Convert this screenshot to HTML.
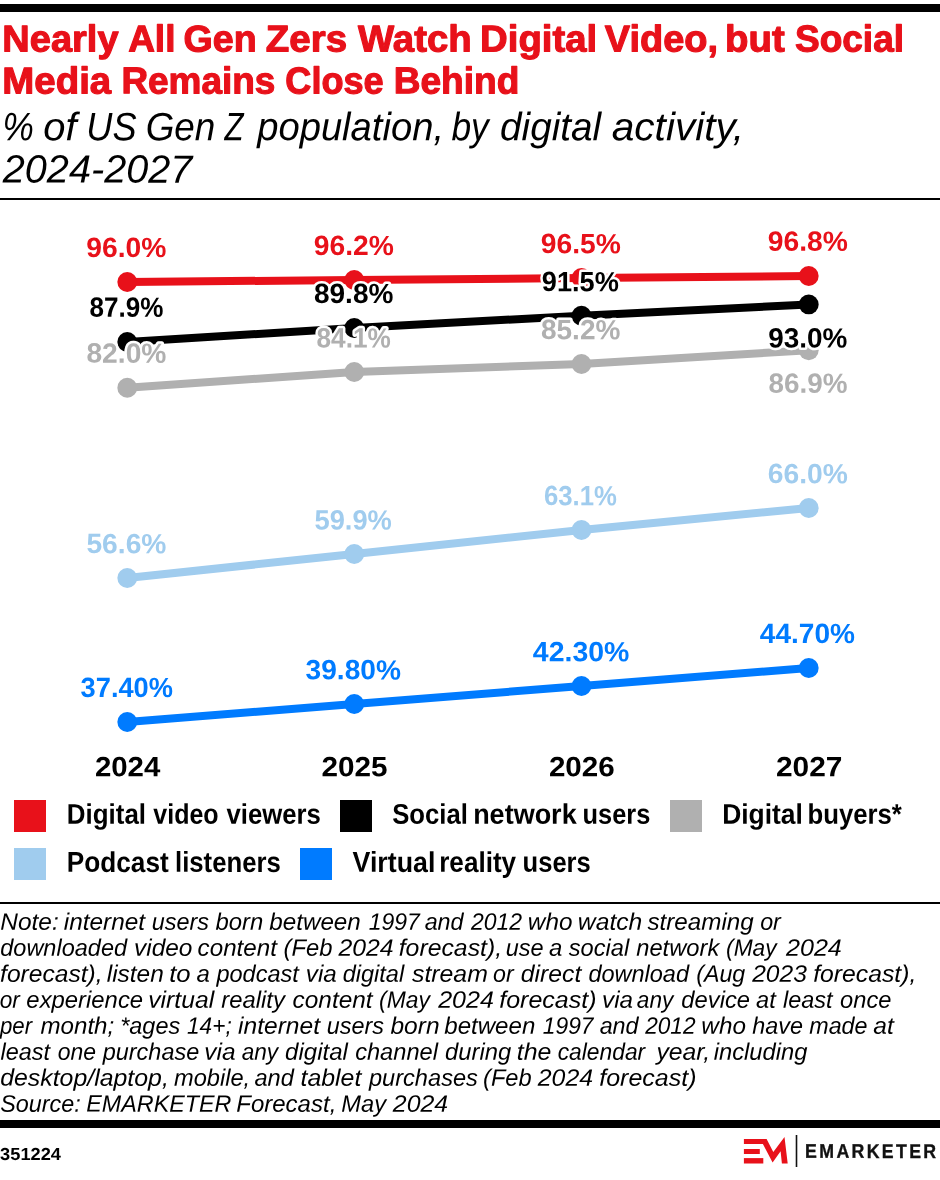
<!DOCTYPE html>
<html lang="en">
<head>
<meta charset="utf-8">
<title>Nearly All Gen Zers Watch Digital Video, but Social Media Remains Close Behind</title>
<style>
html,body{margin:0;padding:0;background:#fff;}
body{width:940px;height:1180px;overflow:hidden;font-family:"Liberation Sans",sans-serif;}
#chart{display:block;width:940px;height:1180px;}
text{font-family:"Liberation Sans",sans-serif;white-space:pre;}
.halo{paint-order:stroke fill;stroke:#fff;stroke-width:5px;stroke-linejoin:round;}
.ln{fill:none;stroke-width:8px;stroke-linejoin:round;stroke-linecap:round;}
</style>
</head>
<body>
<svg id="chart" width="940" height="1180" viewBox="0 0 940 1180" role="img" aria-label="Line chart: percent of US Gen Z population, by digital activity, 2024-2027">
<rect x="0" y="0" width="940" height="1180" fill="#ffffff"/>

<rect id="top-bar" x="0" y="4" width="940" height="8" fill="#000"/>
<g id="title">
<text transform="matrix(1 0.001 0 1 0 0)" font-size="37.36" font-weight="700" stroke="#e8111a" stroke-width="0.03em" stroke-linejoin="round" fill="#e8111a"><tspan x="2.35" y="51.478" textLength="116.18" lengthAdjust="spacingAndGlyphs">Nearly</tspan> <tspan x="128.13" y="51.389" textLength="47.33" lengthAdjust="spacingAndGlyphs">All</tspan> <tspan x="183.56" y="51.320" textLength="73.13" lengthAdjust="spacingAndGlyphs">Gen</tspan> <tspan x="265.87" y="51.233" textLength="81.24" lengthAdjust="spacingAndGlyphs">Zers</tspan> <tspan x="358.07" y="51.126" textLength="113.57" lengthAdjust="spacingAndGlyphs">Watch</tspan> <tspan x="480.08" y="51.001" textLength="117.05" lengthAdjust="spacingAndGlyphs">Digital</tspan> <tspan x="604.88" y="50.879" textLength="113.17" lengthAdjust="spacingAndGlyphs">Video,</tspan> <tspan x="725.08" y="50.784" textLength="59.72" lengthAdjust="spacingAndGlyphs">but</tspan> <tspan x="794.94" y="50.691" textLength="109.12" lengthAdjust="spacingAndGlyphs">Social</tspan></text>
<text transform="matrix(1 0.001 0 1 0 0)" font-size="37.5" font-weight="700" stroke="#e8111a" stroke-width="0.03em" stroke-linejoin="round" fill="#e8111a"><tspan x="2.33" y="93.379" textLength="108.86" lengthAdjust="spacingAndGlyphs">Media</tspan> <tspan x="121.4" y="93.239" textLength="153.97" lengthAdjust="spacingAndGlyphs">Remains</tspan> <tspan x="285.35" y="93.103" textLength="98.31" lengthAdjust="spacingAndGlyphs">Close</tspan> <tspan x="393.65" y="92.981" textLength="125.66" lengthAdjust="spacingAndGlyphs">Behind</tspan></text>
</g>
<g id="subtitle">
<text transform="matrix(1 0.001 0 1 0 0)" font-size="39.57" font-style="italic" fill="#000000"><tspan x="2.53" y="140.186" textLength="31.35" lengthAdjust="spacingAndGlyphs">%</tspan> <tspan x="43.3" y="140.142" textLength="33.27" lengthAdjust="spacingAndGlyphs">of</tspan> <tspan x="86.29" y="140.092" textLength="50.25" lengthAdjust="spacingAndGlyphs">US</tspan> <tspan x="145.65" y="140.024" textLength="69.76" lengthAdjust="spacingAndGlyphs">Gen</tspan> <tspan x="224.62" y="139.970" textLength="18.97" lengthAdjust="spacingAndGlyphs">Z</tspan> <tspan x="257.2" y="139.856" textLength="186.81" lengthAdjust="spacingAndGlyphs">population,</tspan> <tspan x="451.47" y="139.733" textLength="37.31" lengthAdjust="spacingAndGlyphs">by</tspan> <tspan x="500.09" y="139.653" textLength="101.05" lengthAdjust="spacingAndGlyphs">digital</tspan> <tspan x="611.69" y="139.528" textLength="132.48" lengthAdjust="spacingAndGlyphs">activity,</tspan></text>
<text x="2.7" y="182.6" transform="matrix(1 0.001 0 1 0 -0.098)" font-size="39.36" font-style="italic" fill="#000000" textLength="189.75" lengthAdjust="spacingAndGlyphs">2024-2027</text>
</g>
<rect id="head-rule" x="0" y="198" width="940" height="2" fill="#000"/>
<g id="series">
<g class="series" stroke="#e8111a" fill="#e8111a">
<polyline class="ln" points="127.25,282 354.25,280 581.5,278 808.75,276"/>
<circle cx="127.25" cy="282" r="9.9" stroke="none"/>
<circle cx="354.25" cy="280" r="9.9" stroke="none"/>
<circle cx="581.5" cy="278" r="9.9" stroke="none"/>
<circle cx="808.75" cy="276" r="9.9" stroke="none"/>
</g>
<g class="series" stroke="#000000" fill="#000000">
<polyline class="ln" points="127.25,342 354.25,328 581.5,315.75 808.75,304.4"/>
<circle cx="127.25" cy="342" r="9.9" stroke="none"/>
<circle cx="354.25" cy="328" r="9.9" stroke="none"/>
<circle cx="581.5" cy="315.75" r="9.9" stroke="none"/>
<circle cx="808.75" cy="304.4" r="9.9" stroke="none"/>
</g>
<g class="series" stroke="#b0b0b0" fill="#b0b0b0">
<polyline class="ln" points="127.25,387.75 354.25,372 581.5,364 808.75,350.25"/>
<circle cx="127.25" cy="387.75" r="9.9" stroke="none"/>
<circle cx="354.25" cy="372" r="9.9" stroke="none"/>
<circle cx="581.5" cy="364" r="9.9" stroke="none"/>
<circle cx="808.75" cy="350.25" r="9.9" stroke="none"/>
</g>
<g class="series" stroke="#a0ccee" fill="#a0ccee">
<polyline class="ln" points="127.25,578 354.25,554 581.5,530 808.75,508"/>
<circle cx="127.25" cy="578" r="9.9" stroke="none"/>
<circle cx="354.25" cy="554" r="9.9" stroke="none"/>
<circle cx="581.5" cy="530" r="9.9" stroke="none"/>
<circle cx="808.75" cy="508" r="9.9" stroke="none"/>
</g>
<g class="series" stroke="#007bff" fill="#007bff">
<polyline class="ln" points="127.25,722 354.25,704 581.5,686 808.75,668"/>
<circle cx="127.25" cy="722" r="9.9" stroke="none"/>
<circle cx="354.25" cy="704" r="9.9" stroke="none"/>
<circle cx="581.5" cy="686" r="9.9" stroke="none"/>
<circle cx="808.75" cy="668" r="9.9" stroke="none"/>
</g>
</g>
<g id="value-labels">
<text x="86.31" y="256.97" transform="matrix(1 0.001 0 1 0 -0.127)" font-size="27.82" font-weight="700" fill="#e8111a" class="halo" textLength="80.11" lengthAdjust="spacingAndGlyphs">96.0%</text>
<text x="89.52" y="316.87" transform="matrix(1 0.001 0 1 0 -0.127)" font-size="27.82" font-weight="700" fill="#000000" class="halo" textLength="73.84" lengthAdjust="spacingAndGlyphs">87.9%</text>
<text x="86.45" y="362.67" transform="matrix(1 0.001 0 1 0 -0.127)" font-size="27.82" font-weight="700" fill="#b0b0b0" class="halo" textLength="79.96" lengthAdjust="spacingAndGlyphs">82.0%</text>
<text x="86.45" y="553.17" transform="matrix(1 0.001 0 1 0 -0.127)" font-size="27.82" font-weight="700" fill="#a0ccee" class="halo" textLength="79.96" lengthAdjust="spacingAndGlyphs">56.6%</text>
<text x="80.62" y="697.07" transform="matrix(1 0.001 0 1 0 -0.127)" font-size="27.82" font-weight="700" fill="#007bff" class="halo" textLength="92.31" lengthAdjust="spacingAndGlyphs">37.40%</text>
<text x="313.81" y="255.07" transform="matrix(1 0.001 0 1 0 -0.354)" font-size="27.82" font-weight="700" fill="#e8111a" class="halo" textLength="80.11" lengthAdjust="spacingAndGlyphs">96.2%</text>
<text x="313.96" y="302.97" transform="matrix(1 0.001 0 1 0 -0.354)" font-size="27.82" font-weight="700" fill="#000000" class="halo" textLength="79.45" lengthAdjust="spacingAndGlyphs">89.8%</text>
<text x="316.51" y="347.47" transform="matrix(1 0.001 0 1 0 -0.354)" font-size="27.82" font-weight="700" fill="#b0b0b0" class="halo" textLength="74.35" lengthAdjust="spacingAndGlyphs">84.1%</text>
<text x="314.48" y="529.57" transform="matrix(1 0.001 0 1 0 -0.353)" font-size="27.82" font-weight="700" fill="#a0ccee" class="halo" textLength="77.41" lengthAdjust="spacingAndGlyphs">59.9%</text>
<text x="305.6" y="679.37" transform="matrix(1 0.001 0 1 0 -0.353)" font-size="27.82" font-weight="700" fill="#007bff" class="halo" textLength="95.35" lengthAdjust="spacingAndGlyphs">39.80%</text>
<text x="540.81" y="253.17" transform="matrix(1 0.001 0 1 0 -0.581)" font-size="27.82" font-weight="700" fill="#e8111a" class="halo" textLength="80.11" lengthAdjust="spacingAndGlyphs">96.5%</text>
<text x="541.85" y="291.17" transform="matrix(1 0.001 0 1 0 -0.581)" font-size="27.82" font-weight="700" fill="#000000" class="halo" textLength="77.04" lengthAdjust="spacingAndGlyphs">91.5%</text>
<text x="540.96" y="339.17" transform="matrix(1 0.001 0 1 0 -0.581)" font-size="27.82" font-weight="700" fill="#b0b0b0" class="halo" textLength="79.45" lengthAdjust="spacingAndGlyphs">85.2%</text>
<text x="543.9" y="505.17" transform="matrix(1 0.001 0 1 0 -0.581)" font-size="27.82" font-weight="700" fill="#a0ccee" class="halo" textLength="72.96" lengthAdjust="spacingAndGlyphs">63.1%</text>
<text x="532.87" y="661.27" transform="matrix(1 0.001 0 1 0 -0.581)" font-size="27.82" font-weight="700" fill="#007bff" class="halo" textLength="96.59" lengthAdjust="spacingAndGlyphs">42.30%</text>
<text x="767.81" y="250.87" transform="matrix(1 0.001 0 1 0 -0.808)" font-size="27.82" font-weight="700" fill="#e8111a" class="halo" textLength="80.11" lengthAdjust="spacingAndGlyphs">96.8%</text>
<text x="768.32" y="347.47" transform="matrix(1 0.001 0 1 0 -0.808)" font-size="27.82" font-weight="700" fill="#000000" class="halo" textLength="79.09" lengthAdjust="spacingAndGlyphs">93.0%</text>
<text x="768.46" y="392.87" transform="matrix(1 0.001 0 1 0 -0.808)" font-size="27.82" font-weight="700" fill="#b0b0b0" class="halo" textLength="78.94" lengthAdjust="spacingAndGlyphs">86.9%</text>
<text x="767.81" y="483.17" transform="matrix(1 0.001 0 1 0 -0.808)" font-size="27.82" font-weight="700" fill="#a0ccee" class="halo" textLength="80.11" lengthAdjust="spacingAndGlyphs">66.0%</text>
<text x="759.88" y="642.97" transform="matrix(1 0.001 0 1 0 -0.807)" font-size="27.82" font-weight="700" fill="#007bff" class="halo" textLength="95.07" lengthAdjust="spacingAndGlyphs">44.70%</text>
</g>
<g id="x-axis">
<text x="94.92" y="776.22" transform="matrix(1 0.001 0 1 0 -0.128)" font-size="27.82" font-weight="700" fill="#000000" textLength="65.42" lengthAdjust="spacingAndGlyphs">2024</text>
<text x="321.41" y="776.22" transform="matrix(1 0.001 0 1 0 -0.354)" font-size="27.82" font-weight="700" fill="#000000" textLength="66.02" lengthAdjust="spacingAndGlyphs">2025</text>
<text x="548.91" y="776.22" transform="matrix(1 0.001 0 1 0 -0.582)" font-size="27.82" font-weight="700" fill="#000000" textLength="65.81" lengthAdjust="spacingAndGlyphs">2026</text>
<text x="775.9" y="776.22" transform="matrix(1 0.001 0 1 0 -0.809)" font-size="27.82" font-weight="700" fill="#000000" textLength="66.48" lengthAdjust="spacingAndGlyphs">2027</text>
</g>
<g id="legend">
<rect x="14" y="800" width="32" height="32" fill="#e8111a"/>
<text transform="matrix(1 0.001 0 1 0 0)" font-size="28.48" font-weight="700" fill="#000000"><tspan x="66.81" y="823.644" textLength="79.22" lengthAdjust="spacingAndGlyphs">Digital</tspan> <tspan x="153.27" y="823.564" textLength="65.35" lengthAdjust="spacingAndGlyphs">video</tspan> <tspan x="226.47" y="823.477" textLength="94.34" lengthAdjust="spacingAndGlyphs">viewers</tspan></text>
<rect x="340" y="800" width="32" height="32" fill="#000000"/>
<text transform="matrix(1 0.001 0 1 0 0)" font-size="28.48" font-weight="700" fill="#000000"><tspan x="392.13" y="823.321" textLength="75.69" lengthAdjust="spacingAndGlyphs">Social</tspan> <tspan x="473.14" y="823.224" textLength="103.53" lengthAdjust="spacingAndGlyphs">network</tspan> <tspan x="582.58" y="823.133" textLength="67.7" lengthAdjust="spacingAndGlyphs">users</tspan></text>
<rect x="670" y="800" width="32" height="32" fill="#b0b0b0"/>
<text transform="matrix(1 0.001 0 1 0 0)" font-size="28.48" font-weight="700" fill="#000000"><tspan x="722.18" y="822.988" textLength="80.68" lengthAdjust="spacingAndGlyphs">Digital</tspan> <tspan x="807.43" y="822.895" textLength="94.46" lengthAdjust="spacingAndGlyphs">buyers*</tspan></text>
<rect x="14" y="848" width="32" height="32" fill="#a0ccee"/>
<text transform="matrix(1 0.001 0 1 0 0)" font-size="28.7" font-weight="700" fill="#000000"><tspan x="66.8" y="871.782" textLength="101.87" lengthAdjust="spacingAndGlyphs">Podcast</tspan> <tspan x="175.03" y="871.672" textLength="105.76" lengthAdjust="spacingAndGlyphs">listeners</tspan></text>
<rect x="300" y="848" width="32" height="32" fill="#007bff"/>
<text transform="matrix(1 0.001 0 1 0 0)" font-size="28.7" font-weight="700" fill="#000000"><tspan x="352.57" y="871.507" textLength="82.77" lengthAdjust="spacingAndGlyphs">Virtual</tspan> <tspan x="439.2" y="871.422" textLength="76.96" lengthAdjust="spacingAndGlyphs">reality</tspan> <tspan x="522.57" y="871.343" textLength="68.22" lengthAdjust="spacingAndGlyphs">users</tspan></text>
</g>
<rect id="note-rule" x="0" y="902" width="940" height="2" fill="#000"/>
<g id="notes">
<text transform="matrix(1 0.001 0 1 0 0)" font-size="23.77" font-style="italic" fill="#000000"><tspan x="0.22" y="929.671" textLength="58.47" lengthAdjust="spacingAndGlyphs">Note:</tspan> <tspan x="63.73" y="929.595" textLength="81.37" lengthAdjust="spacingAndGlyphs">internet</tspan> <tspan x="151.66" y="929.519" textLength="57.26" lengthAdjust="spacingAndGlyphs">users</tspan> <tspan x="215.49" y="929.461" textLength="47.82" lengthAdjust="spacingAndGlyphs">born</tspan> <tspan x="269.24" y="929.385" textLength="91.57" lengthAdjust="spacingAndGlyphs">between</tspan> <tspan x="368.7" y="929.305" textLength="51.13" lengthAdjust="spacingAndGlyphs">1997</tspan> <tspan x="424.63" y="929.255" textLength="38.95" lengthAdjust="spacingAndGlyphs">and</tspan> <tspan x="470.93" y="929.204" textLength="51.13" lengthAdjust="spacingAndGlyphs">2012</tspan> <tspan x="527.89" y="929.150" textLength="44.53" lengthAdjust="spacingAndGlyphs">who</tspan> <tspan x="577.87" y="929.090" textLength="64.48" lengthAdjust="spacingAndGlyphs">watch</tspan> <tspan x="647.48" y="928.999" textLength="106.23" lengthAdjust="spacingAndGlyphs">streaming</tspan> <tspan x="760.15" y="928.929" textLength="20.72" lengthAdjust="spacingAndGlyphs">or</tspan></text>
<text transform="matrix(1 0.001 0 1 0 0)" font-size="23.77" font-style="italic" fill="#000000"><tspan x="0.24" y="955.636" textLength="126.83" lengthAdjust="spacingAndGlyphs">downloaded</tspan> <tspan x="134.01" y="955.536" textLength="58.44" lengthAdjust="spacingAndGlyphs">video</tspan> <tspan x="197.63" y="955.462" textLength="79.24" lengthAdjust="spacingAndGlyphs">content</tspan> <tspan x="283.53" y="955.392" textLength="48.91" lengthAdjust="spacingAndGlyphs">(Feb</tspan> <tspan x="338.47" y="955.334" textLength="55.08" lengthAdjust="spacingAndGlyphs">2024</tspan> <tspan x="398.73" y="955.251" textLength="103.39" lengthAdjust="spacingAndGlyphs">forecast),</tspan> <tspan x="505.66" y="955.175" textLength="37.92" lengthAdjust="spacingAndGlyphs">use</tspan> <tspan x="549.12" y="955.144" textLength="13.33" lengthAdjust="spacingAndGlyphs">a</tspan> <tspan x="568.73" y="955.101" textLength="60.42" lengthAdjust="spacingAndGlyphs">social</tspan> <tspan x="636.24" y="955.022" textLength="83.04" lengthAdjust="spacingAndGlyphs">network</tspan> <tspan x="726.05" y="954.948" textLength="50.58" lengthAdjust="spacingAndGlyphs">(May</tspan> <tspan x="785.98" y="954.887" textLength="55.84" lengthAdjust="spacingAndGlyphs">2024</tspan></text>
<text transform="matrix(1 0.001 0 1 0 0)" font-size="23.77" font-style="italic" fill="#000000"><tspan x="0.09" y="981.650" textLength="102.51" lengthAdjust="spacingAndGlyphs">forecast),</tspan> <tspan x="106.73" y="981.565" textLength="57.05" lengthAdjust="spacingAndGlyphs">listen</tspan> <tspan x="169.24" y="981.520" textLength="21.4" lengthAdjust="spacingAndGlyphs">to</tspan> <tspan x="196.62" y="981.497" textLength="13.33" lengthAdjust="spacingAndGlyphs">a</tspan> <tspan x="216.44" y="981.442" textLength="82.38" lengthAdjust="spacingAndGlyphs">podcast</tspan> <tspan x="305.77" y="981.378" textLength="30.99" lengthAdjust="spacingAndGlyphs">via</tspan> <tspan x="342.64" y="981.326" textLength="61.53" lengthAdjust="spacingAndGlyphs">digital</tspan> <tspan x="411.98" y="981.251" textLength="75.87" lengthAdjust="spacingAndGlyphs">stream</tspan> <tspan x="493.06" y="981.196" textLength="20.65" lengthAdjust="spacingAndGlyphs">or</tspan> <tspan x="520.86" y="981.148" textLength="60.48" lengthAdjust="spacingAndGlyphs">direct</tspan> <tspan x="588.39" y="981.061" textLength="100.63" lengthAdjust="spacingAndGlyphs">download</tspan> <tspan x="696.19" y="980.979" textLength="49.04" lengthAdjust="spacingAndGlyphs">(Aug</tspan> <tspan x="752.22" y="980.921" textLength="54.59" lengthAdjust="spacingAndGlyphs">2023</tspan> <tspan x="813.23" y="980.836" textLength="103.14" lengthAdjust="spacingAndGlyphs">forecast),</tspan></text>
<text transform="matrix(1 0.001 0 1 0 0)" font-size="23.77" font-style="italic" fill="#000000"><tspan x="-0.34" y="1007.690" textLength="20.13" lengthAdjust="spacingAndGlyphs">or</tspan> <tspan x="26.38" y="1007.615" textLength="116.7" lengthAdjust="spacingAndGlyphs">experience</tspan> <tspan x="148.24" y="1007.518" textLength="65.9" lengthAdjust="spacingAndGlyphs">virtual</tspan> <tspan x="221.24" y="1007.446" textLength="63.58" lengthAdjust="spacingAndGlyphs">reality</tspan> <tspan x="292.62" y="1007.367" textLength="79.99" lengthAdjust="spacingAndGlyphs">content</tspan> <tspan x="379.07" y="1007.294" textLength="50.79" lengthAdjust="spacingAndGlyphs">(May</tspan> <tspan x="438.19" y="1007.234" textLength="55.67" lengthAdjust="spacingAndGlyphs">2024</tspan> <tspan x="499.23" y="1007.152" textLength="97.35" lengthAdjust="spacingAndGlyphs">forecast)</tspan> <tspan x="602.02" y="1007.082" textLength="30.99" lengthAdjust="spacingAndGlyphs">via</tspan> <tspan x="636.83" y="1007.044" textLength="36.51" lengthAdjust="spacingAndGlyphs">any</tspan> <tspan x="681.39" y="1006.984" textLength="68.66" lengthAdjust="spacingAndGlyphs">device</tspan> <tspan x="756.13" y="1006.933" textLength="19.72" lengthAdjust="spacingAndGlyphs">at</tspan> <tspan x="783" y="1006.892" textLength="49.57" lengthAdjust="spacingAndGlyphs">least</tspan> <tspan x="840.14" y="1006.834" textLength="51.35" lengthAdjust="spacingAndGlyphs">once</tspan></text>
<text transform="matrix(1 0.001 0 1 0 0)" font-size="23.77" font-style="italic" fill="#000000"><tspan x="-0.11" y="1033.684" textLength="32.15" lengthAdjust="spacingAndGlyphs">per</tspan> <tspan x="40.49" y="1033.623" textLength="73.74" lengthAdjust="spacingAndGlyphs">month;</tspan> <tspan x="120.19" y="1033.549" textLength="60.04" lengthAdjust="spacingAndGlyphs">*ages</tspan> <tspan x="187.03" y="1033.491" textLength="44.69" lengthAdjust="spacingAndGlyphs">14+;</tspan> <tspan x="238.03" y="1033.420" textLength="82.01" lengthAdjust="spacingAndGlyphs">internet</tspan> <tspan x="326.66" y="1033.344" textLength="57.26" lengthAdjust="spacingAndGlyphs">users</tspan> <tspan x="390.48" y="1033.285" textLength="49.11" lengthAdjust="spacingAndGlyphs">born</tspan> <tspan x="444.24" y="1033.211" textLength="91.06" lengthAdjust="spacingAndGlyphs">between</tspan> <tspan x="542.78" y="1033.131" textLength="50.73" lengthAdjust="spacingAndGlyphs">1997</tspan> <tspan x="599.63" y="1033.080" textLength="38.95" lengthAdjust="spacingAndGlyphs">and</tspan> <tspan x="645.21" y="1033.030" textLength="50.32" lengthAdjust="spacingAndGlyphs">2012</tspan> <tspan x="701.39" y="1032.976" textLength="44.53" lengthAdjust="spacingAndGlyphs">who</tspan> <tspan x="752.25" y="1032.923" textLength="50.74" lengthAdjust="spacingAndGlyphs">have</tspan> <tspan x="809.25" y="1032.862" textLength="58.3" lengthAdjust="spacingAndGlyphs">made</tspan> <tspan x="873.33" y="1032.816" textLength="20.51" lengthAdjust="spacingAndGlyphs">at</tspan></text>
<text transform="matrix(1 0.001 0 1 0 0)" font-size="23.77" font-style="italic" fill="#000000"><tspan x="0.6" y="1059.674" textLength="49.47" lengthAdjust="spacingAndGlyphs">least</tspan> <tspan x="57.66" y="1059.623" textLength="38.31" lengthAdjust="spacingAndGlyphs">one</tspan> <tspan x="102.69" y="1059.550" textLength="96.56" lengthAdjust="spacingAndGlyphs">purchase</tspan> <tspan x="204.26" y="1059.480" textLength="31.26" lengthAdjust="spacingAndGlyphs">via</tspan> <tspan x="241.65" y="1059.439" textLength="36.47" lengthAdjust="spacingAndGlyphs">any</tspan> <tspan x="285.13" y="1059.383" textLength="62.79" lengthAdjust="spacingAndGlyphs">digital</tspan> <tspan x="355.14" y="1059.303" textLength="82.79" lengthAdjust="spacingAndGlyphs">channel</tspan> <tspan x="445.14" y="1059.222" textLength="66.05" lengthAdjust="spacingAndGlyphs">during</tspan> <tspan x="516.84" y="1059.166" textLength="34.62" lengthAdjust="spacingAndGlyphs">the</tspan> <tspan x="557.67" y="1059.098" textLength="87.51" lengthAdjust="spacingAndGlyphs">calendar</tspan> <tspan x="656.46" y="1059.019" textLength="53.66" lengthAdjust="spacingAndGlyphs">year,</tspan> <tspan x="713.74" y="1058.939" textLength="93.63" lengthAdjust="spacingAndGlyphs">including</tspan></text>
<text transform="matrix(1 0.001 0 1 0 0)" font-size="23.77" font-style="italic" fill="#000000"><tspan x="0.2" y="1085.617" textLength="168.67" lengthAdjust="spacingAndGlyphs">desktop/laptop,</tspan> <tspan x="173.99" y="1085.489" textLength="76.16" lengthAdjust="spacingAndGlyphs">mobile,</tspan> <tspan x="254.39" y="1085.425" textLength="39.42" lengthAdjust="spacingAndGlyphs">and</tspan> <tspan x="300.48" y="1085.368" textLength="60.88" lengthAdjust="spacingAndGlyphs">tablet</tspan> <tspan x="368.92" y="1085.277" textLength="109" lengthAdjust="spacingAndGlyphs">purchases</tspan> <tspan x="483.04" y="1085.192" textLength="48.65" lengthAdjust="spacingAndGlyphs">(Feb</tspan> <tspan x="537.72" y="1085.135" textLength="55.34" lengthAdjust="spacingAndGlyphs">2024</tspan> <tspan x="599.22" y="1085.052" textLength="97.36" lengthAdjust="spacingAndGlyphs">forecast)</tspan></text>
<text transform="matrix(1 0.001 0 1 0 0)" font-size="23.77" font-style="italic" fill="#000000"><tspan x="0.25" y="1111.660" textLength="80.52" lengthAdjust="spacingAndGlyphs">Source:</tspan> <tspan x="86.3" y="1111.541" textLength="145.06" lengthAdjust="spacingAndGlyphs">EMARKETER</tspan> <tspan x="236.28" y="1111.415" textLength="100.05" lengthAdjust="spacingAndGlyphs">Forecast,</tspan> <tspan x="341.29" y="1111.335" textLength="44.71" lengthAdjust="spacingAndGlyphs">May</tspan> <tspan x="392.85" y="1111.280" textLength="55.28" lengthAdjust="spacingAndGlyphs">2024</tspan></text>
</g>
<rect id="bottom-bar" x="0" y="1120" width="940" height="8" fill="#000"/>
<g id="chart-id">
<text x="0.14" y="1160.03" transform="matrix(1 0.001 0 1 0 -0.031)" font-size="17.46" font-weight="700" fill="#000000" textLength="60.89" lengthAdjust="spacingAndGlyphs">351224</text>
</g>
<g id="logo">
<g fill="#e8111a">
<path d="M743.9 1138.9H766.6L773.3 1152L784.5 1137.1L787.7 1163.5H781.9L780.6 1151.2L772.6 1162.4L762.9 1143.9H743.9Z"/>
<rect x="743.9" y="1149" width="15.9" height="5"/>
<rect x="743.9" y="1158.1" width="19.4" height="5.4"/>
</g>
<rect x="795.7" y="1135" width="1.6" height="32" fill="#111"/>
<text x="894.58" y="1157.9" transform="matrix(0.9 0.001 0 1 0 -0.968)" font-size="19.72" font-weight="700" stroke="#111111" stroke-width="0.018em" stroke-linejoin="round" fill="#111111" letter-spacing="2.59">EMARKETER</text>
</g>
</svg>
</body>
</html>
